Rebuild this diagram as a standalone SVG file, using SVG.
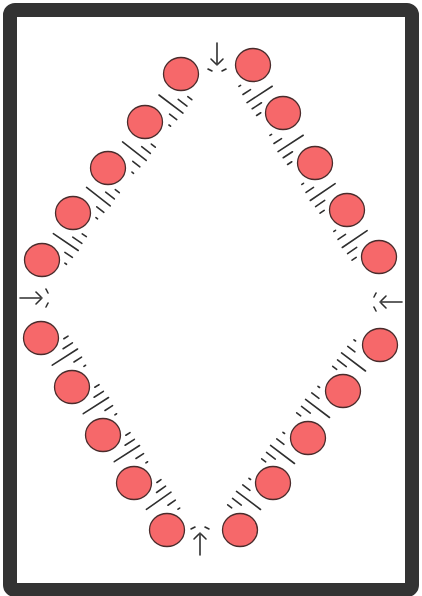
<svg xmlns="http://www.w3.org/2000/svg" width="422" height="596" viewBox="0 0 422 596">
<style>
.frame{fill:#ffffff;stroke:#333333;stroke-width:14}
.dot{fill:#f6686a;stroke:#4a2c2c;stroke-width:1.3}
.mk{stroke:#2f2f2f;stroke-width:1.6;stroke-linecap:round;fill:none}
</style>
<defs>
<g id="hatch" class="mk">
<line x1="0" y1="-5" x2="0" y2="25"/>
<line x1="-9" y1="15" x2="-9" y2="24"/>
<line x1="8" y1="13" x2="8" y2="24"/>
<line x1="16" y1="19" x2="16" y2="24"/>
<line x1="-18" y1="21" x2="-18" y2="23"/>
</g>
<g id="impact" class="mk">
<line x1="0" y1="-23" x2="0" y2="-1"/>
<line x1="-6" y1="-7" x2="-1" y2="-2"/>
<line x1="6" y1="-7" x2="1" y2="-2"/>
<line x1="-9" y1="3" x2="-5" y2="5"/>
<line x1="9" y1="3" x2="5" y2="5"/>
</g>
</defs>
<rect class="frame" x="10" y="10" width="402" height="580" rx="5"/>
<g id="connectors" stroke="#2f2f2f" stroke-width="1.6" stroke-linecap="round">
<use href="#hatch" transform="translate(163,98) rotate(-53)"/>
<use href="#hatch" transform="translate(126.5,145) rotate(-52)"/>
<use href="#hatch" transform="translate(90.5,190.5) rotate(-52)"/>
<use href="#hatch" transform="translate(57.5,236.5) rotate(-56)"/>
<use href="#hatch" transform="translate(268,89) rotate(57)"/>
<use href="#hatch" transform="translate(299,138) rotate(57)"/>
<use href="#hatch" transform="translate(331,186.5) rotate(56)"/>
<use href="#hatch" transform="translate(363,233.5) rotate(56)"/>
<use href="#hatch" transform="translate(56.5,362.5) rotate(-122.7)"/>
<use href="#hatch" transform="translate(87.5,411) rotate(-122.7)"/>
<use href="#hatch" transform="translate(118.5,459) rotate(-122.7)"/>
<use href="#hatch" transform="translate(150.5,506.5) rotate(-125)"/>
<use href="#hatch" transform="translate(361.5,368) rotate(127)"/>
<use href="#hatch" transform="translate(325.5,414.5) rotate(127)"/>
<use href="#hatch" transform="translate(290.5,460.5) rotate(127)"/>
<use href="#hatch" transform="translate(256.5,506.5) rotate(127)"/>
<use href="#impact" transform="translate(217,66)"/>
<use href="#impact" transform="translate(200,532) rotate(180)"/>
<use href="#impact" transform="translate(43,298) rotate(-90)"/>
<use href="#impact" transform="translate(379,302) rotate(90)"/>
</g>
<g id="n1"><ellipse class="dot" cx="181" cy="74" rx="17.5" ry="16.5"/></g>
<g id="n2"><ellipse class="dot" cx="145" cy="122" rx="17.5" ry="16.5"/></g>
<g id="n3"><ellipse class="dot" cx="108" cy="168" rx="17.5" ry="16.5"/></g>
<g id="n4"><ellipse class="dot" cx="73" cy="213" rx="17.5" ry="16.5"/></g>
<g id="n5"><ellipse class="dot" cx="42" cy="260" rx="17.5" ry="16.5"/></g>
<g id="n6"><ellipse class="dot" cx="41" cy="338" rx="17.5" ry="16.5"/></g>
<g id="n7"><ellipse class="dot" cx="72" cy="387" rx="17.5" ry="16.5"/></g>
<g id="n8"><ellipse class="dot" cx="103" cy="435" rx="17.5" ry="16.5"/></g>
<g id="n9"><ellipse class="dot" cx="134" cy="483" rx="17.5" ry="16.5"/></g>
<g id="n10"><ellipse class="dot" cx="167" cy="530" rx="17.5" ry="16.5"/></g>
<g id="n11"><ellipse class="dot" cx="253" cy="65" rx="17.5" ry="16.5"/></g>
<g id="n12"><ellipse class="dot" cx="283" cy="113" rx="17.5" ry="16.5"/></g>
<g id="n13"><ellipse class="dot" cx="315" cy="163" rx="17.5" ry="16.5"/></g>
<g id="n14"><ellipse class="dot" cx="347" cy="210" rx="17.5" ry="16.5"/></g>
<g id="n15"><ellipse class="dot" cx="379" cy="257" rx="17.5" ry="16.5"/></g>
<g id="n16"><ellipse class="dot" cx="380" cy="345" rx="17.5" ry="16.5"/></g>
<g id="n17"><ellipse class="dot" cx="343" cy="391" rx="17.5" ry="16.5"/></g>
<g id="n18"><ellipse class="dot" cx="308" cy="438" rx="17.5" ry="16.5"/></g>
<g id="n19"><ellipse class="dot" cx="273" cy="483" rx="17.5" ry="16.5"/></g>
<g id="n20"><ellipse class="dot" cx="240" cy="530" rx="17.5" ry="16.5"/></g>
</svg>
